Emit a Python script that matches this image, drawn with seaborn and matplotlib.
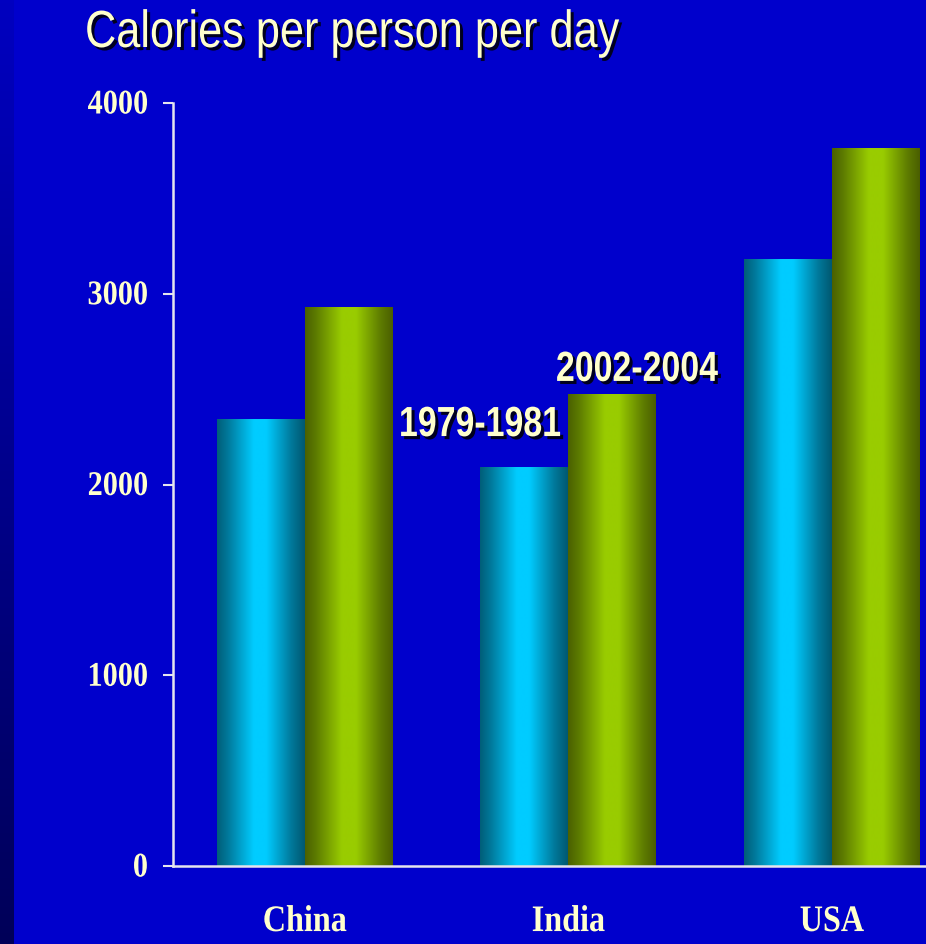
import numpy as np
import pandas as pd
import matplotlib
matplotlib.use("Agg")
import matplotlib.pyplot as plt
import seaborn as sns
import matplotlib.patheffects as pe
from matplotlib.transforms import Affine2D
from matplotlib.colors import LinearSegmentedColormap, to_rgba
from matplotlib import font_manager as fm
from matplotlib.font_manager import FontProperties
from matplotlib.textpath import TextPath

# ---------------- data ----------------
countries = ["China", "India", "USA"]
periods = ["1979-1981", "2002-2004"]
cal_1979 = [2340, 2090, 3180]
cal_2002 = [2930, 2470, 3760]
y_ticks = [0, 1000, 2000, 3000, 4000]
title = "Calories per person per day"

df = pd.DataFrame({
    "country": countries * 2,
    "period": [periods[0]] * len(countries) + [periods[1]] * len(countries),
    "calories": cal_1979 + cal_2002,
})

# ---------------- style ----------------
sns.set_theme(style="white")
BG = "#0000CC"
TXT = "#FFFFCC"
AXC = "#E4E4EE"
base_colors = ["#00CCFF", "#99CC00"]
DPI = 100

names = {f.name for f in fm.fontManager.ttflist}
NARROW = "Liberation Sans Narrow" if "Liberation Sans Narrow" in names else "Liberation Sans"
SERIF = "Liberation Serif"


def fit(s, family, weight, target_w, target_h, hchar=None):
    """Font size (pt) giving ink width target_w px, and vertical stretch for ink height target_h px."""
    fp = FontProperties(family=family, weight=weight, size=100)
    ext = TextPath((0, 0), s, size=100, prop=fp).get_extents()
    hext = TextPath((0, 0), hchar or s, size=100, prop=fp).get_extents()
    px = 100 * target_w / ext.width
    cap_px = hext.y1 * px / 100
    return px * 72 / DPI, target_h / cap_px


class Stretch(pe.AbstractPathEffect):
    """Draw glyphs stretched vertically about their baseline (optionally as a shadow)."""

    def __init__(self, sy, offset=(0, 0), color=None, alpha=None):
        super().__init__(offset)
        self.sy = sy
        self.color = color
        self.alpha = alpha

    def draw_path(self, renderer, gc, tpath, affine, rgbFace=None):
        gc0 = renderer.new_gc()
        gc0.copy_properties(gc)
        if self.color is not None:
            rgbFace = to_rgba(self.color)
            gc0.set_foreground(rgbFace)
        if self.alpha is not None:
            gc0.set_alpha(self.alpha)
        tr = Affine2D().scale(1.0, self.sy) + affine + self._offset_transform(renderer)
        renderer.draw_path(gc0, tpath, tr, rgbFace)
        gc0.restore()


def shadowed(sy):
    return [Stretch(sy, offset=(2.2, -2.2), color="black", alpha=0.85), Stretch(sy)]


title_pt, title_sy = fit(title, NARROW, "normal", 532, 36.5, "C")
per_pt, per_sy = fit(periods[0], NARROW, "bold", 159, 29, "1")
ytk_pt, ytk_sy = fit("4000", SERIF, "bold", 59, 23)
xtk_pt, xtk_sy = fit("China", SERIF, "bold", 82, 26)

W, H = 926, 945
fig = plt.figure(figsize=(W / DPI, H / DPI), dpi=DPI, facecolor=BG)

# dark strip on the left edge
sax = fig.add_axes([0, 0, 14 / W, 1])
sax.imshow(np.linspace(0, 1, 256).reshape(-1, 1),
           cmap=LinearSegmentedColormap.from_list("strip", ["#0000C0", "#000058"]),
           aspect="auto", extent=[0, 1, 0, 1])
sax.axis("off")

ax = fig.add_axes([173 / W, (H - 867) / H, 1 - 173 / W, (867 - 104) / H])
ax.set_facecolor(BG)

sns.barplot(data=df, x="country", y="calories", hue="period",
            order=countries, hue_order=periods, palette=base_colors,
            width=0.667, saturation=1, legend=False, ax=ax,
            edgecolor="none", linewidth=0)

# cylinder-like horizontal gradients
cmaps = {
    0: LinearSegmentedColormap.from_list("cy", [
        (0.0, "#005E78"), (0.12, "#00789A"), (0.42, "#00CCFF"),
        (0.56, "#00CCFF"), (0.85, "#00789A"), (1.0, "#005870")]),
    1: LinearSegmentedColormap.from_list("gr", [
        (0.0, "#4A6000"), (0.12, "#5C7A00"), (0.42, "#99CC00"),
        (0.58, "#99CC00"), (0.86, "#5E7C00"), (1.0, "#4A5E00")]),
}
grad = np.linspace(0, 1, 256).reshape(1, -1)
for p in list(ax.patches):
    fc = p.get_facecolor()
    d0 = np.sum(np.abs(np.array(fc[:3]) - np.array(to_rgba(base_colors[0])[:3])))
    d1 = np.sum(np.abs(np.array(fc[:3]) - np.array(to_rgba(base_colors[1])[:3])))
    k = 0 if d0 < d1 else 1
    x, y, w, h = p.get_x(), p.get_y(), p.get_width(), p.get_height()
    ax.imshow(grad, cmap=cmaps[k], extent=[x, x + w, y, y + h],
              aspect="auto", interpolation="bilinear", zorder=p.get_zorder() + 0.1)
    p.set_visible(False)

ax.set_xlim(-0.5, 2.357)
ax.set_ylim(0, 4000)
ax.set_yticks(y_ticks)
ax.set_yticklabels([str(t) for t in y_ticks])
ax.set_xlabel("")
ax.set_ylabel("")

for s in ["top", "right"]:
    ax.spines[s].set_visible(False)
for s in ["left", "bottom"]:
    ax.spines[s].set_color(AXC)
    ax.spines[s].set_linewidth(1.8)
    ax.spines[s].set_zorder(5)

ax.tick_params(axis="y", which="major", left=True, length=7.5, width=1.5,
               color=AXC, pad=10.5, labelcolor=TXT)
ax.tick_params(axis="x", which="major", bottom=False, length=0, pad=31,
               labelcolor=TXT)
for lab in ax.get_yticklabels():
    lab.set_fontfamily(SERIF)
    lab.set_fontweight("bold")
    lab.set_fontsize(ytk_pt)
    lab.set_path_effects([Stretch(ytk_sy)])
for lab in ax.get_xticklabels():
    lab.set_fontfamily(SERIF)
    lab.set_fontweight("bold")
    lab.set_fontsize(xtk_pt)
    lab.set_path_effects([Stretch(xtk_sy)])

# period labels near the India bars
ax.text(0.972, cal_1979[1] + 164, periods[0], ha="right", va="baseline",
        fontsize=per_pt, fontweight="bold", family=NARROW, color=TXT,
        path_effects=shadowed(per_sy), zorder=10)
ax.text(1.26, cal_2002[1] + 73, periods[1], ha="center", va="baseline",
        fontsize=per_pt, fontweight="bold", family=NARROW, color=TXT,
        path_effects=shadowed(per_sy), zorder=10)

fig.text(85 / W, 1 - 48 / H, title, ha="left", va="baseline",
         fontsize=title_pt, family=NARROW, color=TXT,
         path_effects=shadowed(title_sy))

fig.savefig("out.png", dpi=DPI, facecolor=BG)
